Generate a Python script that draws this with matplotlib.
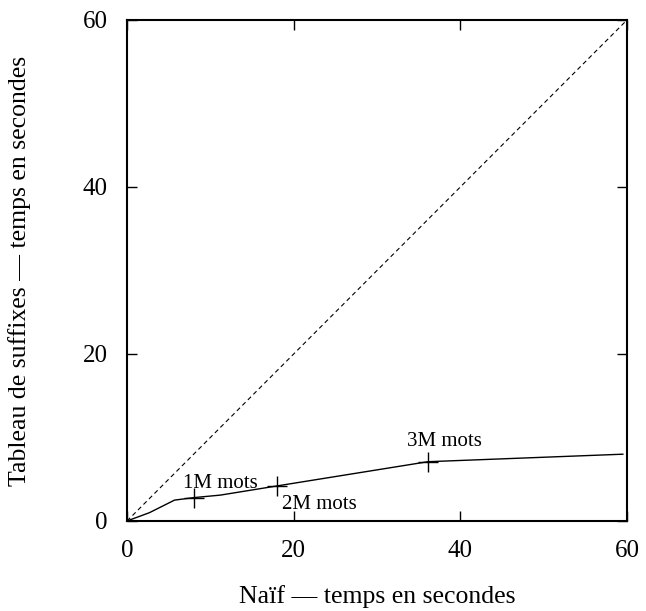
import numpy as np
import matplotlib
matplotlib.use('Agg')
import matplotlib.pyplot as plt

plt.rcParams['font.family'] = ['Liberation Serif', 'DejaVu Serif']

# Temps de calcul (secondes)
naif = [0, 2.7, 5.7, 8.0, 11.2, 18.0, 36.1, 59.5]
suffixes = [0, 1.0, 2.5, 2.8, 3.1, 4.2, 7.1, 8.0]

# Points repères
repere_x = [8.0, 18.0, 36.1]
repere_y = [2.8, 4.2, 7.1]
repere_txt = ['1M mots', '2M mots', '3M mots']
txt_pos = [(6.7, 4.0), (18.6, 1.45), (33.6, 9.0)]

fig = plt.figure(figsize=(6.46, 6.11), dpi=100)
ax = fig.add_axes([0.1966, 0.1473, 0.774, 0.82])

# diagonale y = x
ax.plot([0, 60], [0, 60], color='black', linestyle=(0, (4, 3)), linewidth=0.8)
ax.plot(naif, suffixes, color='black', linewidth=1.0)
ax.plot(repere_x, repere_y, linestyle='none', marker='+', markersize=14,
        markeredgewidth=1.0, color='black')

for txt, (x, y) in zip(repere_txt, txt_pos):
    ax.text(x, y, txt, fontsize=15, ha='left', va='baseline')

ax.set_xlim(0, 60)
ax.set_ylim(0, 60)
ax.set_xticks([0, 20, 40, 60])
ax.set_yticks([0, 20, 40, 60])
ax.tick_params(direction='in', length=7, width=1, labelsize=18, pad=14,
               top=True, right=True)
for s in ax.spines.values():
    s.set_linewidth(1.5)

ax.set_xlabel('Naïf — temps en secondes', fontsize=18.5, labelpad=16)
ax.set_ylabel('Tableau de suffixes — temps en secondes', fontsize=18.5,
              labelpad=37)

fig.savefig('out.png', dpi=100)
